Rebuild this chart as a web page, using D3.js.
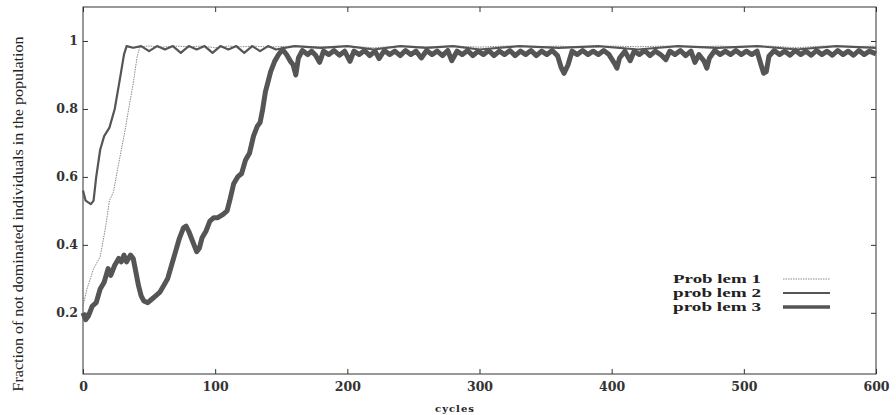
<!DOCTYPE html>
<html>
<head>
<meta charset="utf-8">
<script src="https://cdn.jsdelivr.net/npm/d3@7"></script>
<style>
  body { margin: 0; background: #fff; }
  svg { display: block; }
</style>
</head>
<body>
<svg id="chart"></svg>
<script>
//// DATA

// x ticks / y ticks
const xTicks = [0, 100, 200, 300, 400, 500, 600];
const yTicks = [0.2, 0.4, 0.6, 0.8, 1];
const legendLabels = ["Prob lem 1", "prob lem 2", "prob lem 3"];

// Problem 1 (thin dotted line)
const cycles1 = [0, 3, 8, 13, 17, 20, 23, 27, 32, 35, 38, 41, 43, 50, 60, 70, 80, 90, 100, 110, 120, 130, 140,
  160, 180, 200, 220, 240, 260, 280, 300, 320, 340, 360, 380, 400, 420, 440, 460, 480, 500, 520, 540, 560, 580, 600];
const values1 = [0.22, 0.27, 0.33, 0.365, 0.45, 0.53, 0.555, 0.64, 0.74, 0.81, 0.875, 0.955, 0.983, 0.985, 0.982, 0.985, 0.983, 0.985, 0.98, 0.985, 0.983, 0.985, 0.982,
  0.985, 0.983, 0.985, 0.98, 0.985, 0.983, 0.985, 0.982, 0.985, 0.983, 0.985, 0.98, 0.985, 0.983, 0.985, 0.982, 0.985, 0.983, 0.985, 0.98, 0.985, 0.983, 0.985];

// Problem 2 (medium line)
const cycles2 = [0, 2, 6, 8, 10, 13, 16, 20, 24, 28, 31, 33, 38, 44, 50, 56, 62, 68, 74, 80, 86, 92, 98, 104, 110, 116, 122, 128, 134, 140, 146,
  160, 180, 200, 220, 240, 260, 280, 300, 330, 360, 390, 420, 450, 480, 510, 540, 570, 600];
const values2 = [0.56, 0.53, 0.52, 0.53, 0.6, 0.68, 0.72, 0.745, 0.8, 0.89, 0.96, 0.985, 0.98, 0.985, 0.97, 0.985, 0.975, 0.985, 0.965, 0.985, 0.975, 0.985, 0.965, 0.985, 0.975, 0.985, 0.965, 0.985, 0.97, 0.985, 0.975,
  0.985, 0.98, 0.985, 0.975, 0.985, 0.98, 0.985, 0.975, 0.985, 0.98, 0.985, 0.975, 0.985, 0.98, 0.985, 0.975, 0.985, 0.98];

// Problem 3 (thick line)
const cycles3 = [0, 2, 4, 7, 10, 13, 16, 19, 21, 24, 27, 29, 31, 33, 36, 38, 40, 42, 44, 46, 49, 52, 55, 58, 61, 64, 67, 70, 73, 76, 78,
  80, 83, 86, 88, 90, 93, 96, 99, 102, 106, 109, 111, 114, 117, 120, 123, 126, 129, 132, 134, 136, 138, 140, 142, 145, 148,
  151, 154, 157, 159, 161, 163, 166, 170, 173, 176, 179, 182, 186, 190, 194, 198, 202, 205, 209, 213, 217, 221, 224, 228,
  232, 236, 240, 244, 248, 252, 256, 260, 264, 268, 272, 276, 279, 283, 287, 291, 295, 299, 303, 307, 311, 315, 319, 323,
  327, 331, 335, 339, 343, 347, 351, 355, 359, 362, 364, 367, 370, 374, 378, 382, 386, 390, 394, 398, 402, 404, 406, 410,
  414, 417, 421, 425, 429, 433, 437, 441, 444, 448, 452, 456, 460, 463, 466, 470, 472, 474, 478, 482, 486, 490, 494, 498,
  502, 506, 510, 513, 515, 517, 519, 523, 527, 531, 535, 539, 543, 547, 551, 555, 559, 563, 567, 571, 575, 579, 583, 587,
  591, 595, 600];
const values3 = [0.2, 0.18, 0.19, 0.22, 0.23, 0.27, 0.29, 0.33, 0.31, 0.34, 0.36, 0.35, 0.37, 0.35, 0.37, 0.36, 0.32, 0.28, 0.25, 0.235, 0.23, 0.24, 0.25, 0.26, 0.28, 0.3, 0.34, 0.38, 0.42, 0.45, 0.455,
  0.44, 0.41, 0.38, 0.39, 0.42, 0.44, 0.47, 0.48, 0.48, 0.49, 0.5, 0.53, 0.58, 0.6, 0.61, 0.65, 0.67, 0.72, 0.75, 0.76, 0.8, 0.85, 0.88, 0.91, 0.94, 0.96,
  0.975, 0.96, 0.94, 0.93, 0.9, 0.95, 0.972, 0.96, 0.97, 0.958, 0.937, 0.97, 0.96, 0.972, 0.958, 0.97, 0.94, 0.97, 0.96, 0.972, 0.957, 0.97, 0.948, 0.972,
  0.96, 0.97, 0.957, 0.972, 0.96, 0.97, 0.95, 0.972, 0.96, 0.97, 0.957, 0.972, 0.942, 0.97, 0.96, 0.972, 0.957, 0.97, 0.96, 0.972, 0.957, 0.97, 0.96, 0.972,
  0.957, 0.97, 0.96, 0.972, 0.957, 0.97, 0.96, 0.972, 0.957, 0.92, 0.905, 0.93, 0.97, 0.96, 0.972, 0.96, 0.97, 0.96, 0.972, 0.96, 0.935, 0.92, 0.95, 0.97,
  0.942, 0.97, 0.96, 0.972, 0.957, 0.97, 0.96, 0.945, 0.97, 0.96, 0.972, 0.957, 0.97, 0.937, 0.96, 0.94, 0.92, 0.95, 0.972, 0.96, 0.97, 0.96, 0.972, 0.96,
  0.97, 0.96, 0.97, 0.93, 0.905, 0.91, 0.955, 0.972, 0.96, 0.97, 0.958, 0.972, 0.96, 0.97, 0.958, 0.972, 0.96, 0.97, 0.958, 0.972, 0.96, 0.97, 0.958, 0.972,
  0.96, 0.97, 0.962];

//// SETTINGS

const width = 896;
const height = 415;
const margin = { top: 7, right: 20, bottom: 41, left: 83 };

const svg = d3.select("#chart").attr("width", width).attr("height", height);

const x = d3.scaleLinear().domain([0, 600]).range([margin.left, width - margin.right]);
const y = d3.scaleLinear().domain([0.02, 1.1]).range([height - margin.bottom, margin.top]);

const series = [
  { label: legendLabels[0], cycles: cycles1, values: values1, stroke: "#8a8a8a", width: 1, dash: "1.5,1" },
  { label: legendLabels[1], cycles: cycles2, values: values2, stroke: "#555", width: 2.2, dash: null },
  { label: legendLabels[2], cycles: cycles3, values: values3, stroke: "#555", width: 5, dash: null },
];

//// DRAW

// frame
svg.append("rect")
  .attr("x", margin.left)
  .attr("y", margin.top)
  .attr("width", width - margin.right - margin.left)
  .attr("height", height - margin.bottom - margin.top)
  .style("fill", "none")
  .style("stroke", "#333")
  .style("stroke-width", "1px");

const tickFont = (g) => g.selectAll("text")
  .style("font-family", "'DejaVu Serif', serif")
  .style("font-size", "12.5px")
  .style("font-weight", "bold")
  .style("fill", "#333");

// left axis with inside ticks
svg.append("g")
  .attr("transform", `translate(${margin.left},0)`)
  .call(d3.axisLeft(y).tickValues(yTicks).tickSize(-5).tickPadding(5)
    .tickFormat(d => d === 1 ? "1" : d.toFixed(1)))
  .call(g => g.select(".domain").remove())
  .call(g => g.selectAll("line").style("stroke", "#333"))
  .call(tickFont);

// right axis ticks only
svg.append("g")
  .attr("transform", `translate(${width - margin.right},0)`)
  .call(d3.axisRight(y).tickValues(yTicks).tickSize(-5).tickFormat(""))
  .call(g => g.select(".domain").remove())
  .call(g => g.selectAll("line").style("stroke", "#333"));

// bottom axis
svg.append("g")
  .attr("transform", `translate(0,${height - margin.bottom})`)
  .call(d3.axisBottom(x).tickValues(xTicks).tickSize(-5).tickPadding(8))
  .call(g => g.select(".domain").remove())
  .call(g => g.selectAll("line").style("stroke", "#333"))
  .call(tickFont);

// top axis ticks only
svg.append("g")
  .attr("transform", `translate(0,${margin.top})`)
  .call(d3.axisTop(x).tickValues(xTicks).tickSize(-5).tickFormat(""))
  .call(g => g.select(".domain").remove())
  .call(g => g.selectAll("line").style("stroke", "#333"));

// lines
const line = d3.line().x(d => x(d[0])).y(d => y(d[1]));

series.forEach(function (s) {
  const pts = s.cycles.map((c, i) => [c, s.values[i]]);
  svg.append("path")
    .datum(pts)
    .attr("d", line)
    .style("fill", "none")
    .style("stroke", s.stroke)
    .style("stroke-width", s.width)
    .style("stroke-linejoin", "round")
    .style("stroke-dasharray", s.dash);
});

// axis labels
svg.append("text")
  .attr("transform", "translate(23,214) rotate(-90)")
  .attr("text-anchor", "middle")
  .attr("textLength", 355)
  .attr("lengthAdjust", "spacingAndGlyphs")
  .style("font-family", "'Liberation Serif', serif")
  .style("font-size", "14px")
  .style("fill", "#222")
  .text("Fraction of not dominated individuals in the population");

svg.append("text")
  .attr("x", 455)
  .attr("y", 412)
  .attr("text-anchor", "middle")
  .style("font-family", "'DejaVu Serif', serif")
  .style("font-size", "10px")
  .style("font-weight", "bold")
  .style("letter-spacing", "1px")
  .style("fill", "#222")
  .text("cycles");

// legend
const legend = svg.append("g");
series.forEach(function (s, i) {
  const ly = 279 + i * 14;
  legend.append("text")
    .attr("x", 673)
    .attr("y", ly + 4)
    .attr("textLength", 88)
    .attr("lengthAdjust", "spacingAndGlyphs")
    .style("font-family", "'Liberation Serif', serif")
    .style("font-size", "12.5px")
    .style("font-weight", "bold")
    .style("fill", "#222")
    .text(s.label);
  legend.append("line")
    .attr("x1", 783).attr("x2", 830)
    .attr("y1", ly).attr("y2", ly)
    .style("stroke", s.stroke)
    .style("stroke-width", Math.min(s.width, 3.5))
    .style("stroke-dasharray", s.dash);
});
</script>
</body>
</html>
